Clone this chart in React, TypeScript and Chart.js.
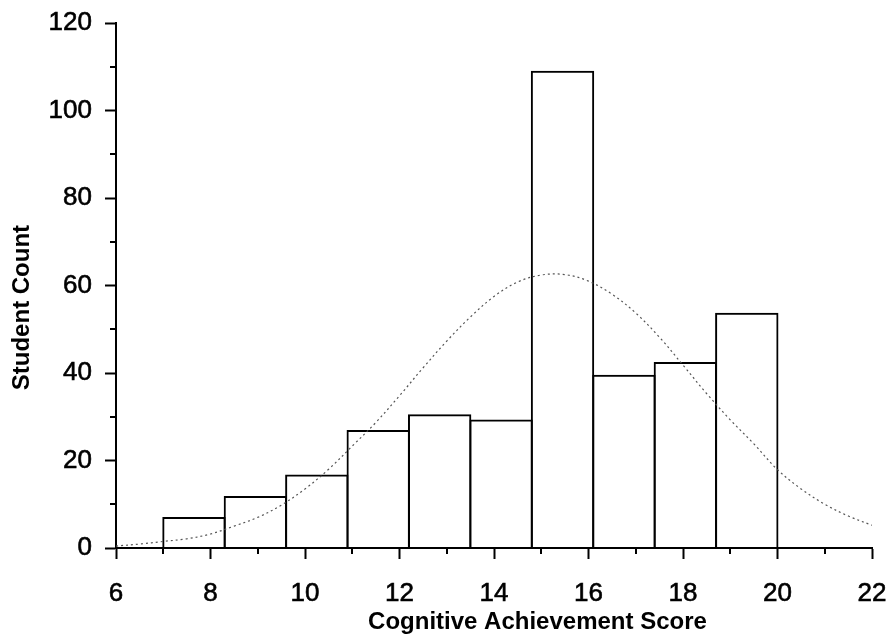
import React, { useEffect, useRef } from 'react';
import { Chart, registerables } from 'chart.js';

Chart.register(...registerables);

// Histogram bins (score edges) and student counts per bin
const binEdges = [7.0, 8.3, 9.6, 10.9, 12.2, 13.5, 14.8, 16.1, 17.4, 18.7, 20.0];
const studentCounts = [7.1, 11.9, 16.8, 27, 30.6, 29.4, 109.1, 39.6, 42.5, 53.8];

// Fitted normal curve
const curveScores = [6, 6.5, 7, 7.5, 8, 8.5, 9, 9.5, 10, 10.5, 11, 11.5, 12, 12.5, 13, 13.5, 14, 14.5, 15, 15.5, 16, 16.5, 17, 17.5, 18, 18.5, 19, 19.5, 20, 20.5, 21, 21.5, 22];
const curveCounts = [0.45, 0.9, 1.5, 2.1, 3.2, 5.0, 7.0, 9.8, 13.5, 18.0, 23.3, 28.7, 34.8, 41.2, 47.3, 52.8, 57.5, 60.8, 62.4, 62.5, 61.0, 58.0, 53.7, 48.2, 41.8, 35.3, 29.3, 23.8, 17.9, 13.5, 10.0, 7.3, 5.2];

// Axis ticks
const xMajorTicks = [6, 8, 10, 12, 14, 16, 18, 20, 22];
const xMinorTicks = [7, 9, 11, 13, 15, 17, 19, 21];
const yMajorTicks = [0, 20, 40, 60, 80, 100, 120];
const yMinorTicks = [10, 30, 50, 70, 90, 110];

const X_TITLE = 'Cognitive Achievement Score';
const Y_TITLE = 'Student Count';

const TICK_FONT = { family: '"Liberation Sans", Arial, sans-serif', size: 26 };
const TITLE_FONT = 'bold 24px "Liberation Sans", Arial, sans-serif';

const minorTicksPlugin = {
  id: 'minorTicks',
  afterDraw(chart: any) {
    const { ctx, scales } = chart;
    const x = scales.x;
    const y = scales.y;
    ctx.save();
    ctx.strokeStyle = '#000';
    ctx.lineWidth = 2;
    ctx.beginPath();
    for (const v of xMinorTicks) {
      const px = Math.round(x.getPixelForValue(v));
      ctx.moveTo(px, y.bottom);
      ctx.lineTo(px, y.bottom + 6);
    }
    for (const v of yMinorTicks) {
      const py = Math.round(y.getPixelForValue(v));
      ctx.moveTo(x.left, py);
      ctx.lineTo(x.left - 6, py);
    }
    ctx.stroke();
    ctx.restore();
  },
};

const axisTitlesPlugin = {
  id: 'axisTitles',
  afterDraw(chart: any) {
    const { ctx, chartArea: a } = chart;
    ctx.save();
    ctx.fillStyle = '#000';
    ctx.font = TITLE_FONT;
    ctx.textAlign = 'center';
    ctx.textBaseline = 'middle';
    ctx.fillText(X_TITLE, a.left + (a.right - a.left) * 0.5575, a.bottom + 74);
    ctx.translate(22, a.top + (a.bottom - a.top) * 0.542);
    ctx.rotate(-Math.PI / 2);
    ctx.fillText(Y_TITLE, 0, 0);
    ctx.restore();
  },
};

export default function App() {
  const canvasRef = useRef<HTMLCanvasElement | null>(null);

  useEffect(() => {
    document.body.style.margin = '0';
    const canvas = canvasRef.current;
    if (!canvas) return;

    const barData = studentCounts.map((c, i) => ({
      x: (binEdges[i] + binEdges[i + 1]) / 2,
      y: c,
    }));
    const curveData = curveScores.map((s, i) => ({ x: s, y: curveCounts[i] }));

    const chart = new Chart(canvas, {
      type: 'bar',
      data: {
        datasets: [
          {
            type: 'line',
            data: curveData,
            borderColor: '#555',
            borderWidth: 1.2,
            borderDash: [2, 3],
            pointRadius: 0,
            tension: 0.35,
            fill: false,
            order: 0,
          } as any,
          {
            type: 'bar',
            data: barData,
            backgroundColor: 'rgba(255,255,255,0)',
            borderColor: '#000',
            borderWidth: { top: 2, left: 2, right: 2, bottom: 0 },
            borderSkipped: false,
            barPercentage: 1.032,
            categoryPercentage: 1,
            inflateAmount: 0,
            order: 1,
          } as any,
        ],
      },
      options: {
        responsive: false,
        animation: false,
        layout: { padding: { top: 23, right: 20, left: 0, bottom: 0 } },
        plugins: { legend: { display: false }, tooltip: { enabled: false } },
        scales: {
          x: {
            type: 'linear',
            min: 6,
            max: 22,
            offset: false,
            afterBuildTicks: (scale: any) => {
              scale.ticks = xMajorTicks.map((v) => ({ value: v }));
            },
            afterFit: (scale: any) => {
              scale.height = 96;
              scale.paddingLeft = 0;
              scale.paddingRight = 0;
            },
            ticks: {
              color: '#000',
              font: TICK_FONT,
              padding: 19,
              maxRotation: 0,
              autoSkip: false,
              textStrokeColor: '#000',
              textStrokeWidth: 0.6,
              callback: (v: any) => String(v),
            },
            grid: {
              offset: false,
              drawOnChartArea: false,
              drawTicks: true,
              tickLength: 11,
              tickWidth: 2,
              tickColor: '#000',
              color: '#000',
            },
            border: { display: true, color: '#000', width: 2 },
          },
          y: {
            type: 'linear',
            min: 0,
            max: 120,
            afterBuildTicks: (scale: any) => {
              scale.ticks = yMajorTicks.map((v) => ({ value: v }));
            },
            afterFit: (scale: any) => {
              scale.width = 116;
              scale.paddingTop = 0;
              scale.paddingBottom = 0;
            },
            ticks: {
              color: '#000',
              font: TICK_FONT,
              padding: 13,
              autoSkip: false,
              textStrokeColor: '#000',
              textStrokeWidth: 0.6,
              callback: (v: any) => String(v),
            },
            grid: {
              drawOnChartArea: false,
              drawTicks: true,
              tickLength: 11,
              tickWidth: 2,
              tickColor: '#000',
              color: '#000',
            },
            border: { display: true, color: '#000', width: 2 },
          },
        },
      },
      plugins: [minorTicksPlugin, axisTitlesPlugin],
    });

    return () => chart.destroy();
  }, []);

  return (
    <div style={{ position: 'absolute', left: 0, top: 0, width: 892, height: 644, background: '#fff' }}>
      <canvas ref={canvasRef} width={892} height={644} style={{ display: 'block' }} />
    </div>
  );
}
